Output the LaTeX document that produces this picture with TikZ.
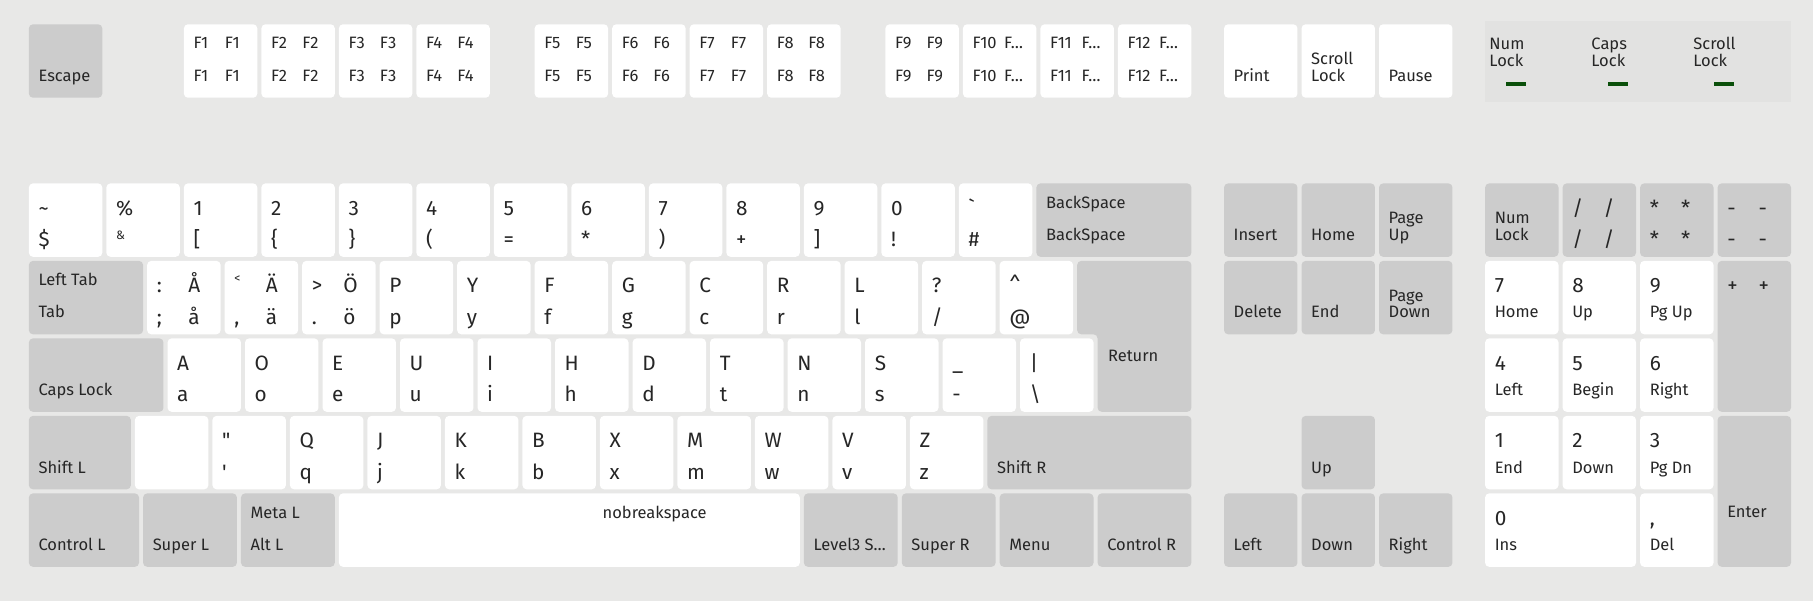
\documentclass[tikz,border=0pt]{standalone}
\usepackage{fontspec}
\setmainfont{Fira Sans}
\usetikzlibrary{positioning}

\definecolor{bgcol}{HTML}{E8E8E7}
\definecolor{panelcol}{HTML}{E2E2E1}
\definecolor{keygrey}{HTML}{CCCCCC}
\definecolor{keytext}{HTML}{262626}
\definecolor{ledcol}{HTML}{0A4F0A}

\tikzset{
  keycap/.style={rectangle,rounded corners=1mm,minimum height=18mm,inner sep=0pt,outer sep=0pt,anchor=north west},
  white key/.style={keycap,fill=white},
  grey key/.style={keycap,fill=keygrey},
  big/.style={anchor=base west,inner sep=0pt,text=keytext,font=\fontsize{14.5}{16}\selectfont},
  med/.style={anchor=base west,inner sep=0pt,text=keytext,font=\fontsize{11.5}{13}\selectfont},
}

% small raised symbol
\newcommand{\tinysym}[2]{\raisebox{#1mm}{\fontsize{8.5}{9}\selectfont #2}}

% character key: four labels
\newcommand{\ckey}[7][white key]{%
  \node[#1,minimum width=18mm] (#2) at (#3) {};
  \node[big] (#2tl) at ([shift={(2.3,7.8)}]#2.north west) {#4};
  \node[big] (#2bl) at ([shift={(2.3,15.5)}]#2.north west) {#5};
  \node[big] (#2tr) at ([shift={(10,7.8)}]#2.north west) {#6};
  \node[big] (#2br) at ([shift={(10,15.5)}]#2.north west) {#7};
}
% named key
\newcommand{\nkey}[7][6.1]{%
  \node[#2,minimum width=#5mm] (#3) at (#4) {};
  \node[med] (#3t) at ([shift={(2.3,#1)}]#3.north west) {#6};
  \node[med] (#3b) at ([shift={(2.3,14)}]#3.north west) {#7};
}
% function key
\newcommand{\fkey}[4]{%
  \node[white key,minimum width=18mm] (#1) at (#2) {};
  \node[med] (#1tl) at ([shift={(2.3,6)}]#1.north west) {#3};
  \node[med] (#1bl) at ([shift={(2.3,14)}]#1.north west) {#3};
  \node[med] (#1tr) at ([shift={(10,6)}]#1.north west) {#4};
  \node[med] (#1br) at ([shift={(10,14)}]#1.north west) {#4};
}
% keypad key
\newcommand{\pkey}[5][18]{%
  \node[white key,minimum width=#1mm] (#2) at (#3) {};
  \node[big] (#2t) at ([shift={(2.3,7.8)}]#2.north west) {#4};
  \node[med] (#2b) at ([shift={(2.3,14)}]#2.north west) {#5};
}

\begin{document}
\begin{tikzpicture}[x=1mm,y=-1mm]
  \fill[bgcol] (12.92,17.04) rectangle (457.39,164.38);
  \useasboundingbox (12.92,17.04) rectangle (457.39,164.38);

  % function row
  \nkey{grey key}{esc}{20,23}{18}{}{Escape}
  \fkey{fk01}{58,23}{F1}{F1}
  \fkey{fk02}{77,23}{F2}{F2}
  \fkey{fk03}{96,23}{F3}{F3}
  \fkey{fk04}{115,23}{F4}{F4}
  \fkey{fk05}{144,23}{F5}{F5}
  \fkey{fk06}{163,23}{F6}{F6}
  \fkey{fk07}{182,23}{F7}{F7}
  \fkey{fk08}{201,23}{F8}{F8}
  \fkey{fk09}{230,23}{F9}{F9}
  \fkey{fk10}{249,23}{F10}{F…}
  \fkey{fk11}{268,23}{F11}{F…}
  \fkey{fk12}{287,23}{F12}{F…}
  \nkey{white key}{prsc}{313,23}{18}{}{Print}
  \nkey[9.9]{white key}{sclk}{332,23}{18}{Scroll}{Lock}
  \nkey{white key}{paus}{351,23}{18}{}{Pause}

  % indicators
  \node[fill=panelcol,minimum width=75mm,minimum height=20mm,inner sep=0pt,anchor=north west] (ledpanel) at (377,22) {};
  \node[fill=ledcol,minimum width=5mm,minimum height=1mm,inner sep=0pt,anchor=north west] (lednum) at (382,37) {};
  \node[fill=ledcol,minimum width=5mm,minimum height=1mm,inner sep=0pt,anchor=north west] (ledcaps) at (407,37) {};
  \node[fill=ledcol,minimum width=5mm,minimum height=1mm,inner sep=0pt,anchor=north west] (ledscroll) at (433,37) {};
  \node[med] (numlbla) at (378,29.1) {Num};
  \node[med] (numlblb) at (378,33.4) {Lock};
  \node[med] (capslbla) at (403,29.1) {Caps};
  \node[med] (capslblb) at (403,33.4) {Lock};
  \node[med] (scrlbla) at (428,29.1) {Scroll};
  \node[med] (scrlblb) at (428,33.4) {Lock};

  % alpha, row 1
  \ckey{tlde}{20,62}{\textasciitilde}{\$}{}{}
  \ckey{ae01}{39,62}{\%}{\tinysym{1.8}{\&}}{}{}
  \ckey{ae02}{58,62}{1}{[}{}{}
  \ckey{ae03}{77,62}{2}{\{}{}{}
  \ckey{ae04}{96,62}{3}{\}}{}{}
  \ckey{ae05}{115,62}{4}{(}{}{}
  \ckey{ae06}{134,62}{5}{=}{}{}
  \ckey{ae07}{153,62}{6}{*}{}{}
  \ckey{ae08}{172,62}{7}{)}{}{}
  \ckey{ae09}{191,62}{8}{+}{}{}
  \ckey{ae10}{210,62}{9}{]}{}{}
  \ckey{ae11}{229,62}{0}{!}{}{}
  \ckey{ae12}{248,62}{\textasciigrave}{\#}{}{}
  \nkey{grey key}{bksp}{267,62}{38}{BackSpace}{BackSpace}

  % row 2
  \nkey{grey key}{tab}{20,81}{28}{Left Tab}{Tab}
  \ckey{ad01}{49,81}{:}{;}{Å}{å}
  \ckey{ad02}{68,81}{\tinysym{2.5}{<}}{,}{Ä}{ä}
  \ckey{ad03}{87,81}{>}{.}{Ö}{ö}
  \ckey{ad04}{106,81}{P}{p}{}{}
  \ckey{ad05}{125,81}{Y}{y}{}{}
  \ckey{ad06}{144,81}{F}{f}{}{}
  \ckey{ad07}{163,81}{G}{g}{}{}
  \ckey{ad08}{182,81}{C}{c}{}{}
  \ckey{ad09}{201,81}{R}{r}{}{}
  \ckey{ad10}{220,81}{L}{l}{}{}
  \ckey{ad11}{239,81}{?}{/}{}{}
  \ckey{ad12}{258,81}{\textasciicircum}{@}{}{}
  \coordinate (rtrn) at (277,81);
  \fill[keygrey,rounded corners=1mm] (rtrn) -- ++(28,0) -- ++(0,37) -- ++(-23,0) -- ++(0,-19) -- ++(-5,0) -- cycle;
  \node[med] (rtrnb) at ([shift={(7.5,24.6)}]rtrn) {Return};

  % row 3
  \nkey{grey key}{caps}{20,100}{33}{}{Caps Lock}
  \ckey{ac01}{54,100}{A}{a}{}{}
  \ckey{ac02}{73,100}{O}{o}{}{}
  \ckey{ac03}{92,100}{E}{e}{}{}
  \ckey{ac04}{111,100}{U}{u}{}{}
  \ckey{ac05}{130,100}{I}{i}{}{}
  \ckey{ac06}{149,100}{H}{h}{}{}
  \ckey{ac07}{168,100}{D}{d}{}{}
  \ckey{ac08}{187,100}{T}{t}{}{}
  \ckey{ac09}{206,100}{N}{n}{}{}
  \ckey{ac10}{225,100}{S}{s}{}{}
  \ckey{ac11}{244,100}{\_}{-}{}{}
  \ckey{ac12}{263,100}{\textbar}{\textbackslash}{}{}

  % row 4
  \nkey{grey key}{lfsh}{20,119}{25}{}{Shift L}
  \ckey{lsgt}{46,119}{}{}{}{}
  \ckey{ab01}{65,119}{\textquotedbl}{\textquotesingle}{}{}
  \ckey{ab02}{84,119}{Q}{q}{}{}
  \ckey{ab03}{103,119}{J}{j}{}{}
  \ckey{ab04}{122,119}{K}{k}{}{}
  \ckey{ab05}{141,119}{B}{b}{}{}
  \ckey{ab06}{160,119}{X}{x}{}{}
  \ckey{ab07}{179,119}{M}{m}{}{}
  \ckey{ab08}{198,119}{W}{w}{}{}
  \ckey{ab09}{217,119}{V}{v}{}{}
  \ckey{ab10}{236,119}{Z}{z}{}{}
  \nkey{grey key}{rtsh}{255,119}{50}{}{Shift R}

  % row 5
  \nkey{grey key}{lctl}{20,138}{27}{}{Control L}
  \nkey{grey key}{lwin}{48,138}{23}{}{Super L}
  \nkey{grey key}{lalt}{72,138}{23}{Meta L}{Alt L}
  \node[white key,minimum width=113mm] (spce) at (96,138) {};
  \node[med] (spcet) at ([shift={(64.6,6.2)}]spce.north west) {nobreakspace};
  \nkey{grey key}{ralt}{210,138}{23}{}{Level3 S…}
  \nkey{grey key}{rwin}{234,138}{23}{}{Super R}
  \nkey{grey key}{menu}{258,138}{23}{}{Menu}
  \nkey{grey key}{rctl}{282,138}{23}{}{Control R}

  % editing
  \nkey{grey key}{ins}{313,62}{18}{}{Insert}
  \nkey{grey key}{home}{332,62}{18}{}{Home}
  \nkey[9.9]{grey key}{pgup}{351,62}{18}{Page}{Up}
  \nkey{grey key}{dele}{313,81}{18}{}{Delete}
  \nkey{grey key}{kend}{332,81}{18}{}{End}
  \nkey[9.9]{grey key}{pgdn}{351,81}{18}{Page}{Down}
  \nkey{grey key}{kup}{332,119}{18}{}{Up}
  \nkey{grey key}{kleft}{313,138}{18}{}{Left}
  \nkey{grey key}{kdown}{332,138}{18}{}{Down}
  \nkey{grey key}{krght}{351,138}{18}{}{Right}

  % keypad
  \nkey[9.9]{grey key}{nmlk}{377,62}{18}{Num}{Lock}
  \ckey[grey key]{kpdv}{396,62}{/}{/}{/}{/}
  \ckey[grey key]{kpmu}{415,62}{*}{*}{*}{*}
  \ckey[grey key]{kpsu}{434,62}{-}{-}{-}{-}
  \pkey{kp7}{377,81}{7}{Home}
  \pkey{kp8}{396,81}{8}{Up}
  \pkey{kp9}{415,81}{9}{Pg Up}
  \node[grey key,minimum width=18mm,minimum height=37mm] (kpad) at (434,81) {};
  \node[big] (kpadtl) at ([shift={(2.3,7.8)}]kpad.north west) {+};
  \node[big] (kpadtr) at ([shift={(10,7.8)}]kpad.north west) {+};
  \pkey{kp4}{377,100}{4}{Left}
  \pkey{kp5}{396,100}{5}{Begin}
  \pkey{kp6}{415,100}{6}{Right}
  \pkey{kp1}{377,119}{1}{End}
  \pkey{kp2}{396,119}{2}{Down}
  \pkey{kp3}{415,119}{3}{Pg Dn}
  \node[grey key,minimum width=18mm,minimum height=37mm] (kpen) at (434,119) {};
  \node[med] (kpenb) at ([shift={(2.3,24.8)}]kpen.north west) {Enter};
  \pkey[37]{kp0}{377,138}{0}{Ins}
  \pkey{kpdl}{415,138}{,}{Del}
\end{tikzpicture}
\end{document}
